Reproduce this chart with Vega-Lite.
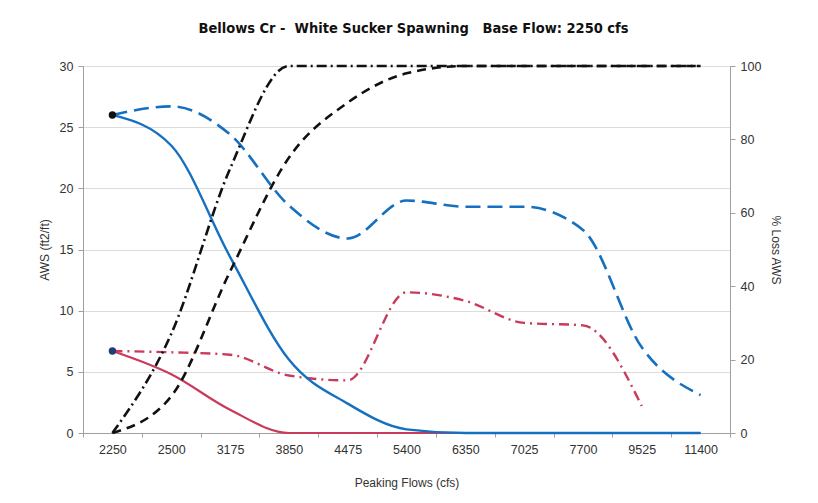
{
  "$schema": "https://vega.github.io/schema/vega-lite/v6.json",
  "width": 647,
  "height": 367,
  "autosize": {"type": "none"},
  "padding": {"left": 83, "top": 66, "right": 88, "bottom": 70},
  "background": "white",
  "title": {
    "text": "Bellows Cr -\u00a0 White Sucker Spawning\u00a0\u00a0 Base Flow: 2250 cfs",
    "font": "DejaVu Sans Condensed, Liberation Sans",
    "fontSize": 14.5,
    "fontWeight": "bold",
    "color": "#111111",
    "anchor": "middle",
    "frame": "group",
    "offset": 24,
    "dx": 7
  },
  "config": {
    "view": {"stroke": "#a0a0a0", "strokeWidth": 1},
    "axis": {
      "labelFont": "Liberation Sans",
      "titleFont": "Liberation Sans",
      "labelColor": "#333333",
      "titleColor": "#333333",
      "labelFontSize": 12.5,
      "titleFontSize": 12,
      "titleFontWeight": "normal",
      "domainColor": "#a0a0a0",
      "tickColor": "#a0a0a0",
      "gridColor": "#dcdcdc"
    }
  },
  "data": {
    "values": [
      {"flow": 2250, "series": "bs", "value": 26.0},
      {"flow": 2500, "series": "bs", "value": 23.5},
      {"flow": 3175, "series": "bs", "value": 14.4},
      {"flow": 3850, "series": "bs", "value": 6.0},
      {"flow": 4475, "series": "bs", "value": 2.4},
      {"flow": 5400, "series": "bs", "value": 0.3},
      {"flow": 6350, "series": "bs", "value": 0},
      {"flow": 7025, "series": "bs", "value": 0},
      {"flow": 7700, "series": "bs", "value": 0},
      {"flow": 9525, "series": "bs", "value": 0},
      {"flow": 11400, "series": "bs", "value": 0},
      {"flow": 2250, "series": "rs", "value": 6.7},
      {"flow": 2500, "series": "rs", "value": 4.8},
      {"flow": 3175, "series": "rs", "value": 1.9},
      {"flow": 3850, "series": "rs", "value": 0},
      {"flow": 4475, "series": "rs", "value": 0},
      {"flow": 5400, "series": "rs", "value": 0},
      {"flow": 6350, "series": "rs", "value": 0},
      {"flow": 7025, "series": "rs", "value": 0},
      {"flow": 7700, "series": "rs", "value": 0},
      {"flow": 9525, "series": "rs", "value": 0},
      {"flow": 11400, "series": "rs", "value": 0},
      {"flow": 2250, "series": "bd", "value": 26.0},
      {"flow": 2500, "series": "bd", "value": 26.7},
      {"flow": 3175, "series": "bd", "value": 24.4},
      {"flow": 3850, "series": "bd", "value": 18.6},
      {"flow": 4475, "series": "bd", "value": 15.9},
      {"flow": 5400, "series": "bd", "value": 19.0},
      {"flow": 6350, "series": "bd", "value": 18.5},
      {"flow": 7025, "series": "bd", "value": 18.5},
      {"flow": 7700, "series": "bd", "value": 16.6},
      {"flow": 9525, "series": "bd", "value": 7.0},
      {"flow": 11400, "series": "bd", "value": 3.1},
      {"flow": 2250, "series": "rd", "value": 6.7},
      {"flow": 2500, "series": "rd", "value": 6.6},
      {"flow": 3175, "series": "rd", "value": 6.4},
      {"flow": 3850, "series": "rd", "value": 4.7},
      {"flow": 4475, "series": "rd", "value": 4.3},
      {"flow": 5400, "series": "rd", "value": 11.5},
      {"flow": 6350, "series": "rd", "value": 10.8},
      {"flow": 7025, "series": "rd", "value": 9.0},
      {"flow": 7700, "series": "rd", "value": 8.8},
      {"flow": 9525, "series": "rd", "value": 2.2},
      {"flow": 2250, "series": "pk", "value": 26.0},
      {"flow": 2250, "series": "pn", "value": 6.7},
      {"flow": 2250, "series": "kd", "value": 0},
      {"flow": 2500, "series": "kd", "value": 10},
      {"flow": 3175, "series": "kd", "value": 44},
      {"flow": 3850, "series": "kd", "value": 75},
      {"flow": 4475, "series": "kd", "value": 90},
      {"flow": 5400, "series": "kd", "value": 98},
      {"flow": 6350, "series": "kd", "value": 100},
      {"flow": 7025, "series": "kd", "value": 100},
      {"flow": 7700, "series": "kd", "value": 100},
      {"flow": 9525, "series": "kd", "value": 100},
      {"flow": 11400, "series": "kd", "value": 100},
      {"flow": 2250, "series": "kdd", "value": 0},
      {"flow": 2500, "series": "kdd", "value": 27},
      {"flow": 3175, "series": "kdd", "value": 72},
      {"flow": 3850, "series": "kdd", "value": 100},
      {"flow": 4475, "series": "kdd", "value": 100},
      {"flow": 5400, "series": "kdd", "value": 100},
      {"flow": 6350, "series": "kdd", "value": 100},
      {"flow": 7025, "series": "kdd", "value": 100},
      {"flow": 7700, "series": "kdd", "value": 100},
      {"flow": 9525, "series": "kdd", "value": 100},
      {"flow": 11400, "series": "kdd", "value": 100}
    ]
  },
  "encoding": {
    "x": {
      "field": "flow",
      "type": "ordinal",
      "scale": {"type": "band", "paddingInner": 0, "paddingOuter": 0},
      "axis": {
        "title": "Peaking Flows (cfs)",
        "labelAngle": 0,
        "tickBand": "extent",
        "tickSize": 4,
        "labelPadding": 6,
        "titlePadding": 22,
        "grid": false
      }
    }
  },
  "layer": [
    {
      "encoding": {
        "y": {
          "field": "value",
          "type": "quantitative",
          "scale": {"domain": [0, 30], "nice": false},
          "axis": {
            "title": "AWS (ft2/ft)",
            "values": [0, 5, 10, 15, 20, 25, 30],
            "grid": true,
            "tickSize": 5,
            "labelPadding": 5,
            "titlePadding": 8
          }
        }
      },
      "layer": [
        {
          "transform": [{"filter": "datum.series === 'bd'"}],
          "mark": {"type": "line", "color": "#1570c0", "strokeWidth": 2.6, "interpolate": "monotone", "strokeDash": [15, 7]}
        },
        {
          "transform": [{"filter": "datum.series === 'rd'"}],
          "mark": {"type": "line", "color": "#c93a5b", "strokeWidth": 2.4, "interpolate": "monotone", "strokeDash": [10, 5, 2, 5]}
        },
        {
          "transform": [{"filter": "datum.series === 'rs'"}],
          "mark": {"type": "line", "color": "#c93a5b", "strokeWidth": 2.2, "interpolate": "monotone"}
        },
        {
          "transform": [{"filter": "datum.series === 'bs'"}],
          "mark": {"type": "line", "color": "#1570c0", "strokeWidth": 2.4, "interpolate": "monotone"}
        },
        {
          "transform": [{"filter": "datum.series === 'pk'"}],
          "mark": {"type": "point", "filled": true, "opacity": 1, "color": "#111111", "size": 55}
        },
        {
          "transform": [{"filter": "datum.series === 'pn'"}],
          "mark": {"type": "point", "filled": true, "opacity": 1, "color": "#1f3d7a", "size": 55}
        }
      ]
    },
    {
      "encoding": {
        "y": {
          "field": "value",
          "type": "quantitative",
          "scale": {"domain": [0, 100], "nice": false},
          "axis": {
            "orient": "right",
            "title": "% Loss AWS",
            "values": [0, 20, 40, 60, 80, 100],
            "grid": false,
            "tickSize": 5,
            "labelPadding": 5,
            "titlePadding": 8
          }
        }
      },
      "layer": [
        {
          "transform": [{"filter": "datum.series === 'kd'"}],
          "mark": {"type": "line", "color": "#111111", "strokeWidth": 2.6, "interpolate": "monotone", "strokeDash": [9, 6]}
        },
        {
          "transform": [{"filter": "datum.series === 'kdd'"}],
          "mark": {"type": "line", "color": "#111111", "strokeWidth": 2.6, "interpolate": "monotone", "strokeDash": [10, 4, 2, 4]}
        }
      ]
    }
  ],
  "resolve": {"scale": {"y": "independent"}}
}
